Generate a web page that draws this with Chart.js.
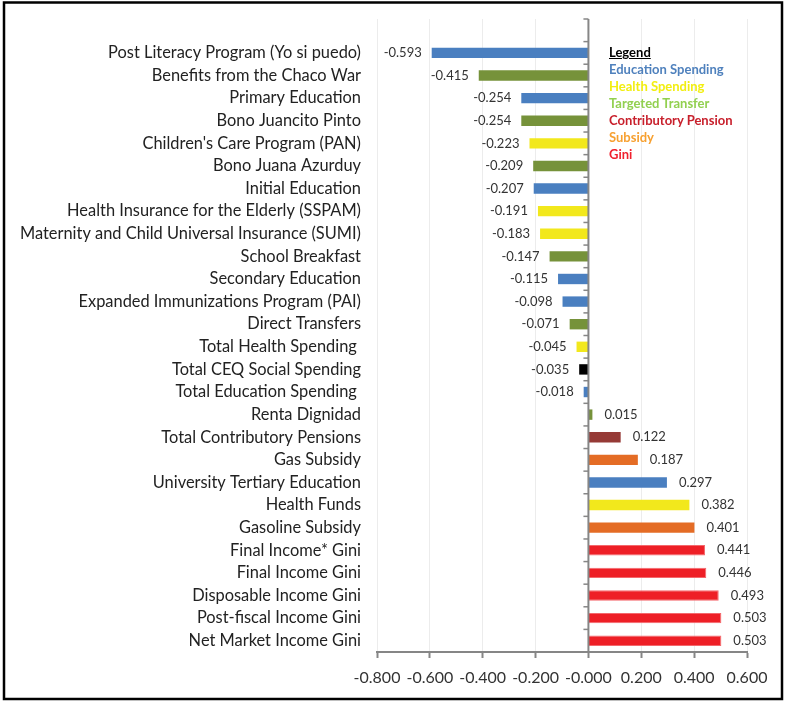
<!DOCTYPE html>
<html>
<head>
<meta charset="utf-8">
<script src="https://cdn.jsdelivr.net/npm/chart.js@4/dist/chart.umd.min.js"></script>
<style>
  html, body { margin: 0; padding: 0; background: #fff; }
  #wrap { position: relative; width: 785px; height: 702px; }
  canvas { position: absolute; left: 0; top: 0; }
  #legend { position: absolute; left: 609px; top: 44px; font-family: Lato, "Open Sans", sans-serif; font-weight: bold; font-size: 13px; line-height: 17px; }
  #legend div { white-space: nowrap; }
</style>
</head>
<body>
<div id="wrap">
  <canvas id="c" width="785" height="702"></canvas>
  <div id="legend"></div>
</div>
<script>
// ---- data ----
const categories = [
  "",
  "Post Literacy Program (Yo si puedo)",
  "Benefits from the Chaco War",
  "Primary Education",
  "Bono Juancito Pinto",
  "Children's Care Program (PAN)",
  "Bono Juana Azurduy",
  "Initial Education",
  "Health Insurance for the Elderly (SSPAM)",
  "Maternity and Child Universal Insurance (SUMI)",
  "School Breakfast",
  "Secondary Education",
  "Expanded Immunizations Program (PAI)",
  "Direct Transfers",
  "Total Health Spending ",
  "Total CEQ Social Spending",
  "Total Education Spending ",
  "Renta Dignidad",
  "Total Contributory Pensions",
  "Gas Subsidy",
  "University Tertiary Education",
  "Health Funds",
  "Gasoline Subsidy",
  "Final Income* Gini",
  "Final Income Gini",
  "Disposable Income Gini",
  "Post-fiscal Income Gini",
  "Net Market Income Gini"
];
const values = [
  null,
  -0.593, -0.415, -0.254, -0.254, -0.223, -0.209, -0.207, -0.191, -0.183,
  -0.147, -0.115, -0.098, -0.071, -0.045, -0.035, -0.018,
  0.015, 0.122, 0.187, 0.297, 0.382, 0.401, 0.441, 0.446, 0.493, 0.503, 0.503
];
const groups = [
  "",
  "edu", "target", "edu", "target", "health", "target", "edu", "health", "health",
  "target", "edu", "edu", "target", "health", "total", "edu",
  "target", "pension", "subsidy", "edu", "health", "subsidy", "gini", "gini", "gini", "gini", "gini"
];
const legendLabels = ["Legend", "Education Spending", "Health Spending", "Targeted Transfer", "Contributory Pension", "Subsidy", "Gini"];
const axisMin = -0.8, axisMax = 0.6, axisStep = 0.2;

// ---- styles ----
const barColors = { edu: "#4a7fc0", target: "#76923a", health: "#f2e81c", total: "#000000", pension: "#963a36", subsidy: "#e46c25", gini: "#ee1f26", "": "#000" };
const legendColors = ["#000000", "#4f81bd", "#f2ee10", "#92d050", "#c8202c", "#f7a030", "#f0202e"];
const FONT = "Lato, 'Open Sans', sans-serif";

// legend (HTML text)
const lg = document.getElementById('legend');
legendLabels.forEach((t, i) => {
  const d = document.createElement('div');
  d.textContent = t;
  d.style.color = legendColors[i];
  if (i === 0) d.style.textDecoration = 'underline';
  lg.appendChild(d);
});

const decorPlugin = {
  id: 'decor',
  beforeDraw(chart) {
    const ctx = chart.ctx;
    ctx.save();
    ctx.fillStyle = '#fff';
    ctx.fillRect(0, 0, chart.width, chart.height);
    ctx.restore();
  },
  afterDatasetsDraw(chart) {
    const ctx = chart.ctx;
    const xs = chart.scales.x, ys = chart.scales.y;
    const x0 = xs.getPixelForValue(0);
    ctx.save();
    // zero axis line with category tick marks
    ctx.strokeStyle = '#868686';
    ctx.lineWidth = 2;
    ctx.beginPath();
    ctx.moveTo(x0, chart.chartArea.top);
    ctx.lineTo(x0, chart.chartArea.bottom);
    ctx.stroke();
    const n = categories.length;
    const band = (chart.chartArea.bottom - chart.chartArea.top) / n;
    ctx.lineWidth = 1.5;
    for (let k = 0; k <= n; k++) {
      const y = ys.getPixelForValue(0) - band / 2 + k * band;
      ctx.beginPath();
      ctx.moveTo(x0 - 5, y);
      ctx.lineTo(x0, y);
      ctx.stroke();
    }
    // data labels
    const meta = chart.getDatasetMeta(0);
    ctx.font = "13px " + FONT;
    ctx.fillStyle = '#333';
    ctx.textBaseline = 'middle';
    meta.data.forEach((el, i) => {
      const v = values[i];
      if (v === null || v === undefined) return;
      const txt = v.toFixed(3);
      if (v < 0) { ctx.textAlign = 'right'; ctx.fillText(txt, el.x - 10, el.y); }
      else { ctx.textAlign = 'left'; ctx.fillText(txt, el.x + 12, el.y); }
    });
    ctx.restore();
  },
  afterDraw(chart) {
    const ctx = chart.ctx;
    ctx.save();
    ctx.strokeStyle = '#000';
    ctx.lineWidth = 2.5;
    ctx.strokeRect(4, 2.5, 778, 696.5);
    ctx.restore();
  }
};

new Chart(document.getElementById('c'), {
  type: 'bar',
  data: {
    labels: categories,
    datasets: [{
      data: values,
      backgroundColor: groups.map(g => barColors[g]),
      borderColor: groups.map(g => g === 'gini' ? '#f4686c' : barColors[g]),
      borderWidth: groups.map(g => g === 'gini' ? 1 : 0),
      categoryPercentage: 1.0,
      barPercentage: 0.46
    }]
  },
  options: {
    indexAxis: 'y',
    responsive: false,
    animation: false,
    layout: { padding: { left: 0, right: 38, top: 19, bottom: 0 } },
    plugins: { legend: { display: false }, tooltip: { enabled: false } },
    scales: {
      x: {
        min: axisMin, max: axisMax,
        ticks: {
          stepSize: axisStep,
          color: '#333',
          font: { family: FONT, size: 16 },
          padding: 10,
          callback: v => Number(v).toFixed(3)
        },
        grid: {
          color: c => (c.tick && Math.abs(c.tick.value) < 1e-9) ? 'rgba(0,0,0,0)' : '#ececec',
          lineWidth: 1,
          tickColor: '#868686',
          tickLength: 6,
          tickWidth: 2
        },
        border: { color: '#868686', width: 2 },
        afterFit: s => { s.height = 50; }
      },
      y: {
        ticks: {
          color: '#222',
          font: { family: FONT, size: 16.4 },
          padding: 16,
          autoSkip: false
        },
        grid: { display: false, drawTicks: false },
        border: { display: false },
        afterFit: s => { s.width = 377; s.paddingTop = 0; s.paddingBottom = 0; }
      }
    }
  },
  plugins: [decorPlugin]
});
</script>
</body>
</html>
